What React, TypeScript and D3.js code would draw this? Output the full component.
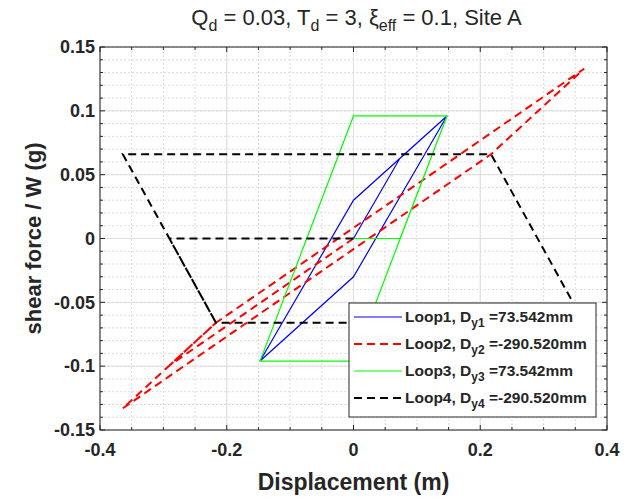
import React, { useRef, useEffect } from "react";
import * as d3 from "d3";

// loop points [displacement (m), shear force / W (g)]
const loop1 = [[0, 0], [0.0735, 0.063], [0.1475, 0.096], [0, -0.03], [-0.1475, -0.096], [0, 0.03], [0.1475, 0.096]];
const loop2 = [[0, 0], [-0.2905, -0.0995], [-0.217, -0.066], [0.364, 0.133], [0.217, 0.066], [-0.364, -0.133], [-0.217, -0.066]];
const loop3 = [[0, 0], [0.0735, 0], [0.1475, 0.096], [0, 0.096], [-0.1475, -0.096], [0, -0.096], [0.1475, 0.096]];
const loop4 = [[0, 0], [-0.2905, 0], [-0.217, -0.066], [0.364, -0.066], [0.217, 0.066], [-0.364, 0.066], [-0.217, -0.066]];

const loopNames = ["Loop1", "Loop2", "Loop3", "Loop4"];
const loopDy = ["73.542", "-290.520", "73.542", "-290.520"];
const loopColors = ["#0000ff", "#ff0000", "#00ff00", "#000000"];
const loopDash = [null, "8,5", null, "8,5"];
const loopWidth = [1.2, 2, 1.2, 2];

const xTicks = [-0.4, -0.2, 0, 0.2, 0.4];
const yTicks = [-0.15, -0.1, -0.05, 0, 0.05, 0.1, 0.15];

const App = () => {
  const svgRef = useRef(null);

  useEffect(() => {
    const w = 625;
    const h = 500;
    const margin = { top: 47, right: 18, bottom: 70, left: 100 };
    const svg = d3.select(svgRef.current).attr("width", w).attr("height", h);
    svg.selectAll("*").remove();

    const x = d3.scaleLinear().domain([-0.4, 0.4]).range([margin.left, w - margin.right]);
    const y = d3.scaleLinear().domain([-0.15, 0.15]).range([h - margin.bottom, margin.top]);
    const [x0, x1] = x.range();
    const [y0, y1] = y.range();
    const axisColor = "#262626";
    const font = "'Liberation Sans', Arial, sans-serif";

    const xMinor = d3.range(-0.4, 0.4001, 0.05);
    const yMinor = d3.range(-0.15, 0.1501, 0.01);

    const grid = svg.append("g");
    // minor grid (dotted)
    grid.selectAll(".xm").data(xMinor).enter().append("line")
      .attr("x1", (d) => x(d)).attr("x2", (d) => x(d)).attr("y1", y1).attr("y2", y0)
      .attr("stroke", "#dcdcdc").attr("stroke-dasharray", "2,2");
    grid.selectAll(".ym").data(yMinor).enter().append("line")
      .attr("y1", (d) => y(d)).attr("y2", (d) => y(d)).attr("x1", x0).attr("x2", x1)
      .attr("stroke", "#dcdcdc").attr("stroke-dasharray", "2,2");
    // major grid
    grid.selectAll(".xM").data(xTicks).enter().append("line")
      .attr("x1", (d) => x(d)).attr("x2", (d) => x(d)).attr("y1", y1).attr("y2", y0)
      .attr("stroke", "#dedede");
    grid.selectAll(".yM").data(yTicks).enter().append("line")
      .attr("y1", (d) => y(d)).attr("y2", (d) => y(d)).attr("x1", x0).attr("x2", x1)
      .attr("stroke", "#dedede");

    // clip the loops to the axes box
    svg.append("defs").append("clipPath").attr("id", "plotclip")
      .append("rect").attr("x", x0).attr("y", y1).attr("width", x1 - x0).attr("height", y0 - y1);

    const line = d3.line().x((d) => x(d[0])).y((d) => y(d[1]));
    const loops = [loop1, loop2, loop3, loop4];
    const plot = svg.append("g").attr("clip-path", "url(#plotclip)");
    loops.forEach((pts, i) => {
      plot.append("path")
        .attr("d", line(pts))
        .attr("fill", "none")
        .attr("stroke", loopColors[i])
        .attr("stroke-width", loopWidth[i])
        .attr("stroke-dasharray", loopDash[i])
        .attr("stroke-linejoin", "miter");
    });

    // box
    svg.append("rect").attr("x", x0).attr("y", y1).attr("width", x1 - x0).attr("height", y0 - y1)
      .attr("fill", "none").attr("stroke", axisColor).attr("stroke-width", 1);

    // ticks on all four sides, pointing inward
    const ticks = svg.append("g").attr("stroke", axisColor);
    xMinor.forEach((d) => {
      const len = xTicks.some((t) => Math.abs(t - d) < 1e-9) ? 5 : 3;
      ticks.append("line").attr("x1", x(d)).attr("x2", x(d)).attr("y1", y0).attr("y2", y0 - len);
      ticks.append("line").attr("x1", x(d)).attr("x2", x(d)).attr("y1", y1).attr("y2", y1 + len);
    });
    yMinor.forEach((d) => {
      const len = yTicks.some((t) => Math.abs(t - d) < 1e-9) ? 5 : 3;
      ticks.append("line").attr("y1", y(d)).attr("y2", y(d)).attr("x1", x0).attr("x2", x0 + len);
      ticks.append("line").attr("y1", y(d)).attr("y2", y(d)).attr("x1", x1).attr("x2", x1 - len);
    });

    // tick labels
    svg.append("g").selectAll("text").data(xTicks).enter().append("text")
      .attr("x", (d) => x(d)).attr("y", y0 + 26)
      .attr("text-anchor", "middle")
      .attr("font-family", font).attr("font-weight", "bold").attr("font-size", 18)
      .attr("fill", axisColor)
      .text((d) => String(d));
    svg.append("g").selectAll("text").data(yTicks).enter().append("text")
      .attr("x", x0 - 5).attr("y", (d) => y(d)).attr("dy", "0.35em")
      .attr("text-anchor", "end")
      .attr("font-family", font).attr("font-weight", "bold").attr("font-size", 18)
      .attr("fill", axisColor)
      .text((d) => String(d));

    // axis labels
    svg.append("text")
      .attr("x", (x0 + x1) / 2).attr("y", 490)
      .attr("text-anchor", "middle")
      .attr("font-family", font).attr("font-weight", "bold").attr("font-size", 23)
      .attr("fill", axisColor)
      .text("Displacement (m)");
    svg.append("text")
      .attr("transform", `translate(41,${(y0 + y1) / 2}) rotate(-90)`)
      .attr("text-anchor", "middle")
      .attr("font-family", font).attr("font-weight", "bold").attr("font-size", 22)
      .attr("fill", axisColor)
      .text("shear force / W (g)");

    // title with subscripts
    const title = svg.append("text")
      .attr("x", (x0 + x1) / 2 + 3).attr("y", 25)
      .attr("text-anchor", "middle")
      .attr("font-family", font).attr("font-size", 22)
      .attr("fill", axisColor);
    const sub = (t, s) => {
      t.append("tspan").attr("dy", 6).attr("font-size", 16).text(s);
    };
    title.append("tspan").text("Q");
    sub(title, "d");
    title.append("tspan").attr("dy", -6).text(" = 0.03, T");
    sub(title, "d");
    title.append("tspan").attr("dy", -6).text(" = 3, \u03be");
    sub(title, "eff");
    title.append("tspan").attr("dy", -6).text(" = 0.1, Site A");

    // legend
    const lg = svg.append("g");
    lg.append("rect").attr("x", 349).attr("y", 303).attr("width", 247).attr("height", 114)
      .attr("fill", "#fff").attr("stroke", axisColor).attr("stroke-width", 1);
    loopNames.forEach((name, i) => {
      const cy = 317 + i * 27;
      lg.append("line").attr("x1", 354).attr("x2", 402).attr("y1", cy).attr("y2", cy)
        .attr("stroke", loopColors[i]).attr("stroke-width", loopWidth[i])
        .attr("stroke-dasharray", loopDash[i]);
      const t = lg.append("text").attr("x", 405).attr("y", cy + 5)
        .attr("font-family", font).attr("font-weight", "bold").attr("font-size", 15.5)
        .attr("fill", axisColor);
      t.append("tspan").text(`${name}, D`);
      t.append("tspan").attr("dy", 5).attr("font-size", 12).text(`y${i + 1}`);
      t.append("tspan").attr("dy", -5).text(` =${loopDy[i]}mm`);
    });
  }, []);

  return (
    <svg ref={svgRef} style={{ position: "absolute", left: 0, top: 0, background: "#fff" }}></svg>
  );
};

export default App;
